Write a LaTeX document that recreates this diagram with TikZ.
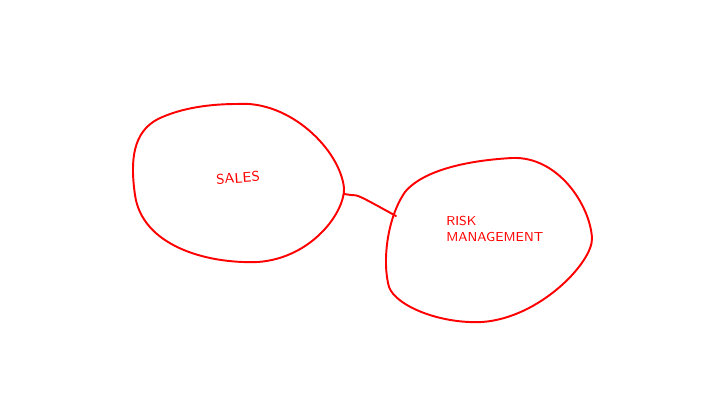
\documentclass[tikz,border=0pt]{standalone}
\usepackage{tikz}
\usetikzlibrary{positioning}
\definecolor{inkred}{HTML}{FF0000}

\begin{document}
\begin{tikzpicture}[
  x=0.02cm, y=-0.02cm,
  blob/.style={draw=inkred, line width=1.1pt, line join=round},
  label/.style={text=inkred, font=\sffamily\fontsize{8}{10}\selectfont, align=left, inner sep=0pt},
  link/.style={draw=inkred, line width=1.1pt, line cap=round, line join=round}
]
  \useasboundingbox (0,0) rectangle (720,405);

  % sales blob
  \draw[blob] (237,104) .. controls (290,100) and (340,150) .. (344,188)
    .. controls (345,212) and (312,258) .. (258,262)
    .. controls (205,264) and (142,245) .. (135,195)
    .. controls (130,160) and (133,132) .. (158,119)
    .. controls (183,107) and (213,104) .. (237,104) -- cycle;
  \node[label, rotate=4] (sales) at (238,178) {SALES};

  % risk blob
  \draw[blob] (512,158) .. controls (558,156) and (590,205) .. (592,238)
    .. controls (593,262) and (540,318) .. (482,322)
    .. controls (440,324) and (396,306) .. (389,287)
    .. controls (382,262) and (387,218) .. (405,192)
    .. controls (425,168) and (475,160) .. (512,158) -- cycle;
  \node[label, anchor=west, font=\sffamily\fontsize{7.4}{9.5}\selectfont] (risk) at (446,229) {RISK\\[-0.5pt]MANAGEMENT};

  \coordinate (salesport) at (344,194);
  \coordinate (riskport) at (396,216);
  \draw[link] (salesport) -- (351,195) .. controls (358,195) .. (riskport);
\end{tikzpicture}
\end{document}
